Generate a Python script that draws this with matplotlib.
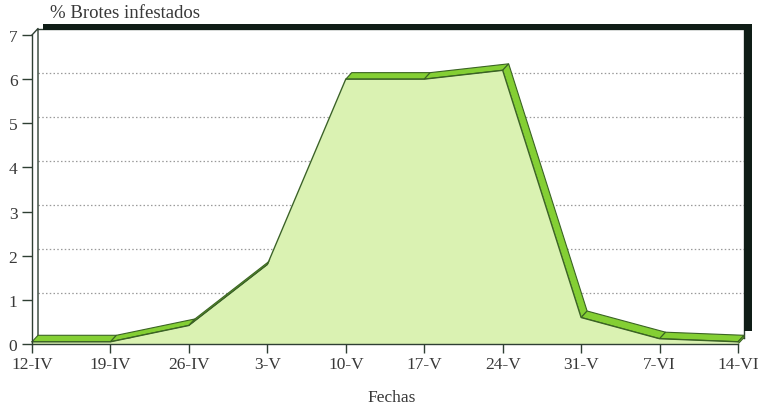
import numpy as np
import matplotlib
matplotlib.use("Agg")
import matplotlib.pyplot as plt
from matplotlib.patches import Polygon

plt.rcParams['font.family'] = ['Liberation Serif', 'DejaVu Serif']

fechas = ["12-IV", "19-IV", "26-IV", "3-V", "10-V", "17-V", "24-V", "31-V", "7-VI", "14-VI"]
brotes = [0.05, 0.05, 0.42, 1.8, 6.0, 6.0, 6.2, 0.6, 0.12, 0.05]
y_ticks = [0, 1, 2, 3, 4, 5, 6, 7]

W, H = 761, 414
fig = plt.figure(figsize=(W / 100, H / 100), dpi=100)
x0, x1, y0, y1 = 32, 738, 345, 36
ax = fig.add_axes([x0 / W, (H - y0) / H, (x1 - x0) / W, (y0 - y1) / H])
n = len(fechas)
ax.set_xlim(0, n - 1)
ax.set_ylim(0, 7)

px_x = (x1 - x0) / (n - 1)
px_y = (y0 - y1) / 7.0
# depth offset of the 3D box (right and up), in pixels
dpx, dpy = 6.0, 6.5
ox = dpx / px_x
oy = dpy / px_y

line_c = "#2e3f33"
dark = "#0f1d16"
area_c = "#daf2b2"
top_c = "#84cf34"
edge_c = "#3b6424"
text_c = "#383838"

# back wall gridlines
for v in y_ticks[1:-1]:
    ax.plot([ox, n - 1 + ox], [v + oy, v + oy], ls=(0, (1.2, 1.8)), lw=0.9,
            color="#9a9a9a", clip_on=False, zorder=1)

# back wall frame
ax.plot([0, ox, ox], [7, 7 + oy, oy], color=line_c, lw=1.0, clip_on=False, zorder=2)
ax.plot([ox, n - 1 + ox, n - 1 + ox], [7 + oy, 7 + oy, oy], color=line_c, lw=1.0,
        clip_on=False, zorder=2)
ax.plot([ox, n - 1 + ox], [oy, oy], color=line_c, lw=0.8, clip_on=False, zorder=2)

# heavy shadow on top and right of the back wall
tx0 = (43 - x0) / px_x
tx1 = (752 - x0) / px_x
rx0 = (744 - x0) / px_x
ty0 = (y0 - 31) / px_y
ty1 = (y0 - 25) / px_y
rb = (y0 - 332) / px_y
ax.add_patch(Polygon([(tx0, ty0), (tx0, ty1), (tx1, ty1), (tx1, rb), (rx0, rb), (rx0, ty0)],
                     closed=True, facecolor=dark, edgecolor="none", clip_on=False, zorder=2))

xs = np.arange(n)
ys = np.array(brotes)

# top faces of the extruded area (only those facing the viewer)
for i in range(n - 1):
    dxp = (xs[i + 1] - xs[i]) * px_x
    dyp = -(ys[i + 1] - ys[i]) * px_y
    cross = dxp * (-dpy) - dyp * dpx
    if cross < 0:
        poly = [(xs[i], ys[i]), (xs[i + 1], ys[i + 1]),
                (xs[i + 1] + ox, ys[i + 1] + oy), (xs[i] + ox, ys[i] + oy)]
        ax.add_patch(Polygon(poly, closed=True, facecolor=top_c, edgecolor=edge_c,
                             lw=0.8, clip_on=False, zorder=3))

# right end cap
cap = [(xs[-1], 0), (xs[-1], ys[-1]), (xs[-1] + ox, ys[-1] + oy), (xs[-1] + ox, oy)]
ax.add_patch(Polygon(cap, closed=True, facecolor=top_c, edgecolor=edge_c, lw=0.8,
                     clip_on=False, zorder=3))

# front face
ax.fill_between(xs, 0, ys, color=area_c, lw=0, zorder=4)
ax.plot(xs, ys, color=edge_c, lw=1.0, zorder=5, clip_on=False)

# axes
for s in ["top", "right"]:
    ax.spines[s].set_visible(False)
for s in ["left", "bottom"]:
    ax.spines[s].set_color(line_c)
    ax.spines[s].set_linewidth(1.0)
    ax.spines[s].set_zorder(6)
ax.set_xticks(xs)
ax.set_xticklabels(fechas)
ax.set_yticks(y_ticks)
ax.tick_params(axis="y", direction="out", length=7.5, width=1.0, color=line_c,
               labelsize=12.5, labelcolor=text_c, pad=3)
ax.tick_params(axis="x", direction="out", length=6.5, width=1.0, color=line_c,
               labelsize=12.5, labelcolor=text_c, pad=2.5)
ax.patch.set_alpha(0)

fig.text(50 / W, 1 - 13 / H, "% Brotes infestados", fontsize=13.5, color=text_c,
         ha="left", va="center")
fig.text(392 / W, 1 - 398 / H, "Fechas", fontsize=12.5, color=text_c,
         ha="center", va="center")

fig.savefig("out.png", dpi=100)
